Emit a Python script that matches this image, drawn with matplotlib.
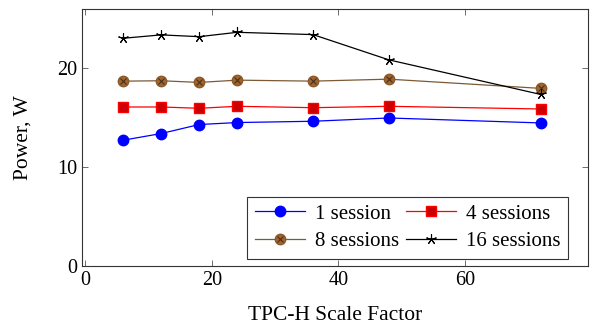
import numpy as np
import matplotlib.pyplot as plt

plt.rcParams['font.family'] = ['Liberation Serif', 'DejaVu Serif']

scale_factor = [6, 12, 18, 24, 36, 48, 72]
power_1 = [12.75, 13.42, 14.33, 14.53, 14.66, 14.99, 14.49]
power_4 = [16.10, 16.10, 15.97, 16.17, 16.03, 16.17, 15.90]
power_8 = [18.71, 18.75, 18.58, 18.81, 18.71, 18.91, 17.98]
power_16 = [23.04, 23.38, 23.20, 23.64, 23.41, 20.86, 17.37]

fig = plt.figure(figsize=(6.0, 3.31), dpi=100)
ax = fig.add_axes([0.137, 0.195, 0.843, 0.778])

lw = 0.9
star = (5, 2, 0)  # pgfplots-like asterisk star
l1, = ax.plot(scale_factor, power_1, '-o', color='blue', lw=lw, ms=7.5,
              mfc='blue', mec='blue')
l4, = ax.plot(scale_factor, power_4, '-s', color='red', lw=lw, ms=7.5,
              mfc='#cc0000', mec='red')
l8, = ax.plot(scale_factor, power_8, '-o', color='#7d5a35', lw=lw, ms=7.5,
              mfc='#a0652f', mec='#8a5a2a')
x8, = ax.plot(scale_factor, power_8, 'x', color='#4a3018', ms=5, mew=0.8)
l16, = ax.plot(scale_factor, power_16, '-', color='black', lw=lw,
               marker=star, ms=7.5, mec='black', mew=0.8)

ax.set_xlim(-0.5, 79.5)
ax.set_ylim(0, 26)
ax.set_xticks([0, 20, 40, 60])
ax.set_yticks([0, 10, 20])
ax.tick_params(direction='in', top=True, right=True, labelsize=14.5, length=4,
               width=0.6, color='#555555')
for s in ax.spines.values():
    s.set_linewidth(0.8)
    s.set_color('#333333')

ax.set_xlabel('TPC-H Scale Factor', fontsize=15.5, labelpad=11)
ax.set_ylabel('Power, W', fontsize=15.5, labelpad=18)

# row-major order for a 2-column legend
handles = [l1, (l8, x8), l4, l16]
labels = ['1 session', '8 sessions', '4 sessions', '16 sessions']
leg = ax.legend(handles, labels, ncol=2, loc='lower right', fontsize=15,
                frameon=True, fancybox=False, edgecolor='black', borderpad=0.35,
                handlelength=2.4, handletextpad=0.5, columnspacing=0.3,
                labelspacing=0.4, borderaxespad=0, bbox_to_anchor=(0.96, 0.03))
leg.get_frame().set_linewidth(0.8)

fig.savefig('out.png', dpi=100)
